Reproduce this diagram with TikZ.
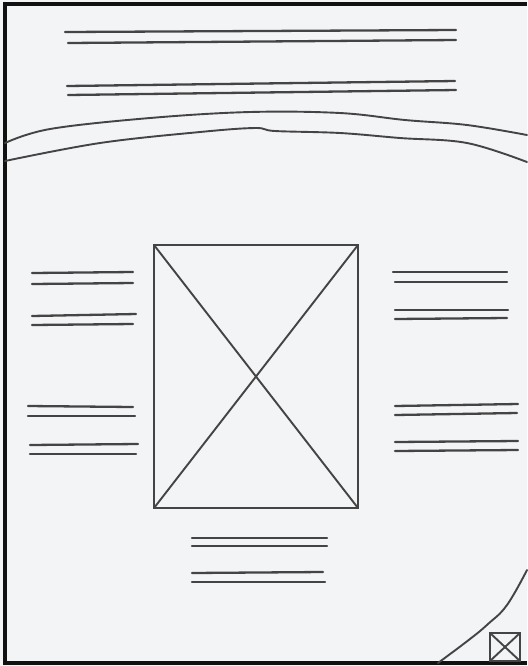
\documentclass[tikz,border=0pt]{standalone}
\usepackage{tikz}
\usetikzlibrary{calc}
\definecolor{Paper}{HTML}{F3F4F6}
\definecolor{Pencil}{HTML}{444444}
\definecolor{Frame}{HTML}{111111}
\tikzset{
  sketch/.style={draw=Pencil,line width=0.95pt,line cap=round},
  textline/.style={draw=Pencil,line width=1.15pt,line cap=round},
  border/.style={draw=Frame,line width=1.6pt},
  imgbox/.style={draw=Pencil,line width=0.95pt}
}
\begin{document}
\begin{tikzpicture}[x=0.5pt,y=-0.5pt]
\fill[Paper] (0,0) rectangle (527,666);
\useasboundingbox (0,0) rectangle (527,666);
\draw[border] (527,4) -- (5,4) -- (5,663) -- (527,663);
% title lines
\draw[textline] (65,32) -- (456,30);
\draw[textline] (68,43) -- (456,40);
\draw[textline] (67,86) -- (455,81);
\draw[textline] (68,95) -- (456,90);
% header curves
\draw[sketch] plot[smooth,tension=0.6] coordinates {(5,143) (50,129) (150,118) (250,112) (340,113) (405,120) (467,125) (527,135)};
\draw[sketch] plot[smooth,tension=0.6] coordinates {(5,161) (100,143) (200,132) (255,128) (275,131) (340,133) (400,138) (467,143) (527,162)};
\draw[sketch] plot[smooth,tension=0.7] coordinates {(527,570) (507,605) (488,624) (470,639) (438,663)};
% picture placeholder
\coordinate (imgNW) at (154,245);
\coordinate (imgSE) at (358,508);
\draw[imgbox] (imgNW) rectangle (imgSE);
\draw[imgbox] (imgNW) -- (imgSE);
\draw[imgbox] (imgNW |- imgSE) -- (imgSE |- imgNW);
% left lines
\draw[textline] (32,273) -- (133,272);
\draw[textline] (32,284) -- (133,283);
\draw[textline] (32,316) -- (136,314);
\draw[textline] (32,325) -- (133,324);
\draw[textline] (28,406) -- (133,407);
\draw[textline] (28,416) -- (135,416);
\draw[textline] (30,445) -- (138,444);
\draw[textline] (30,454) -- (136,454);
% right lines
\draw[textline] (393,272) -- (507,272);
\draw[textline] (395,282) -- (507,282);
\draw[textline] (395,310) -- (508,310);
\draw[textline] (395,319) -- (507,318);
\draw[textline] (395,406) -- (518,404);
\draw[textline] (395,415) -- (517,413);
\draw[textline] (395,442) -- (518,441);
\draw[textline] (395,451) -- (518,450);
% bottom lines
\draw[textline] (192,538) -- (327,538);
\draw[textline] (192,546) -- (327,546);
\draw[textline] (192,573) -- (323,572);
\draw[textline] (192,582) -- (325,582);
% small icon
\coordinate (icoNW) at (490,633);
\coordinate (icoSE) at (520,661);
\draw[imgbox,line width=1.3pt] (icoNW) rectangle (icoSE);
\draw[imgbox] (icoNW) -- (icoSE);
\draw[imgbox] (icoNW |- icoSE) -- (icoSE |- icoNW);
\end{tikzpicture}
\end{document}
